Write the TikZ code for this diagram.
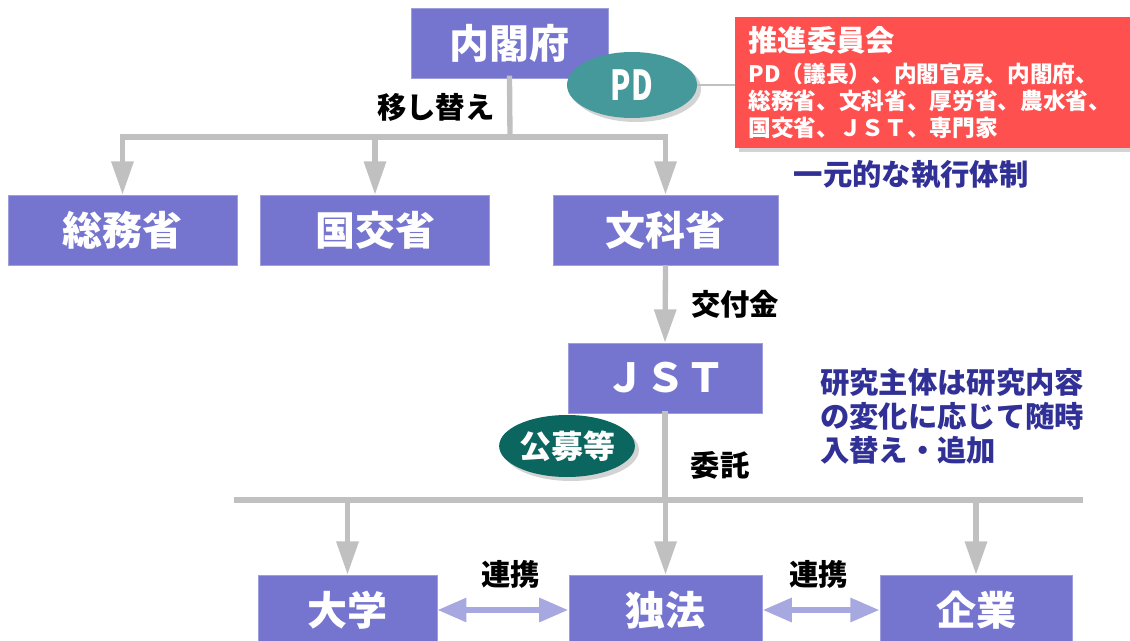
\documentclass[tikz,border=0pt]{standalone}
\usepackage{fontspec}
\setmainfont{Noto Sans CJK JP}
\usetikzlibrary{arrows.meta,shapes.geometric,shadows}

\definecolor{boxblue}{RGB}{117,117,208}
\definecolor{pdteal}{RGB}{69,153,155}
\definecolor{kouboteal}{RGB}{12,102,96}
\definecolor{iinred}{RGB}{255,80,80}
\definecolor{pipegray}{RGB}{192,192,192}
\definecolor{noteblue}{RGB}{48,48,150}
\definecolor{linkblue}{RGB}{168,168,224}

\begin{document}
\begin{tikzpicture}[x=0.75pt, y=-0.75pt]
        \tikzstyle{box}=[rectangle,fill=boxblue,draw=boxblue!70!white,text=white,minimum height=52.5pt,inner sep=0pt,font=\fontsize{30}{34}\selectfont\bfseries]
        \tikzstyle{oval}=[ellipse,text=white,inner sep=0pt,drop shadow={shadow xshift=3pt,shadow yshift=-3pt,opacity=0.35}]
        \tikzstyle{pipe}=[draw=pipegray,line width=4pt,line cap=rect]
        \tikzstyle{feed}=[draw=pipegray,line width=4pt,-{Triangle[length=25pt,width=16pt]}]
        \tikzstyle{link}=[draw=linkblue,line width=5pt,{Triangle[length=22pt,width=17pt]}-{Triangle[length=22pt,width=17pt]}]
        \tikzstyle{tag}=[text=black,font=\fontsize{22}{26}\selectfont\bfseries]
        \tikzstyle{note}=[text=noteblue,align=left,inner sep=0pt,font=\fontsize{22}{25.5}\selectfont\bfseries]

        \useasboundingbox (0,0) rectangle (1130,641);

        % ministries
        \node[box,minimum width=148pt] (Naikaku) at (509.5,43)  {内閣府};
        \node[box,minimum width=172pt] (Somu)    at (122.5,230) {総務省};
        \node[box,minimum width=172pt] (Kokko)   at (375,230)   {国交省};
        \node[box,minimum width=169pt] (Monka)   at (665.5,230) {文科省};
        \node[box,minimum width=145.5pt] (JST)   at (665,378)   {ＪＳＴ};

        % research bodies
        \node[box,minimum width=134pt] (Daigaku) at (347.5,610) {大学};
        \node[box,minimum width=145pt] (Dokuho)  at (665.5,610) {独法};
        \node[box,minimum width=144pt] (Kigyo)   at (976,610)   {企業};

        % committee
        \node[rectangle,anchor=north west,fill=iinred,text=white,minimum width=300pt,minimum height=98.25pt,
              text width=280pt,inner xsep=9.75pt,align=left,font=\fontsize{17}{20.25}\selectfont\bfseries,
              drop shadow={shadow xshift=3pt,shadow yshift=-3pt,opacity=0.35}] (Iinkai) at (735,17)
              {{\fontsize{22}{26}\selectfont 推進委員会}\\[3pt]PD（議長）、内閣官房、内閣府、\\総務省、文科省、厚労省、農水省、\\国交省、ＪＳＴ、専門家};
        \node[oval,fill=pdteal,minimum width=97.5pt,minimum height=49.5pt,font=\fontsize{31}{34}\selectfont\bfseries] (PD) at (632,85) {\scalebox{0.72}[1]{PD}};
        \node[oval,fill=kouboteal,minimum width=93pt,minimum height=46.5pt,font=\fontsize{24}{28}\selectfont\bfseries] (Koubo) at (567,446) {公募等};

        \node[note] (Ichigen) at (911,175) {一元的な執行体制};
        \node[note,anchor=west] (Kenkyu) at (820,416) {研究主体は研究内容\\の変化に応じて随時\\入替え・追加};

        \coordinate (Split) at (510,137);
        \coordinate (BusL) at (237,500);
        \coordinate (BusR) at (1080,500);

        \draw[draw=pipegray,line width=2pt] (PD.east) -- (Iinkai.west |- PD.east);
        \draw[pipe] (Naikaku.south) -- (Split) node[midway,left=6pt,tag] {移し替え};
        \draw[pipe] (Somu.north |- Split) -- (Monka.north |- Split);
        \draw[feed] (Somu.north |- Split) -- (Somu.north);
        \draw[feed] (Kokko.north |- Split) -- (Kokko.north);
        \draw[feed] (Monka.north |- Split) -- (Monka.north);
        \draw[feed] (Monka.south) -- (JST.north) node[midway,right=14pt,tag] {交付金};

        \draw[pipe] (BusL) -- (BusR);
        \draw[pipe] (JST.south) -- (JST.south |- BusL) node[pos=0.6,right=14pt,tag] {委託};
        \draw[feed] (Daigaku.north |- BusL) -- (Daigaku.north);
        \draw[feed] (Dokuho.north |- BusL) -- (Dokuho.north);
        \draw[feed] (Kigyo.north |- BusL) -- (Kigyo.north);

        \draw[link] (Daigaku.east) -- (Dokuho.west) node[midway,above=10pt,xshift=6pt,tag] {連携};
        \draw[link] (Dokuho.east) -- (Kigyo.west) node[midway,above=10pt,xshift=-2pt,tag] {連携};
\end{tikzpicture}
\end{document}
